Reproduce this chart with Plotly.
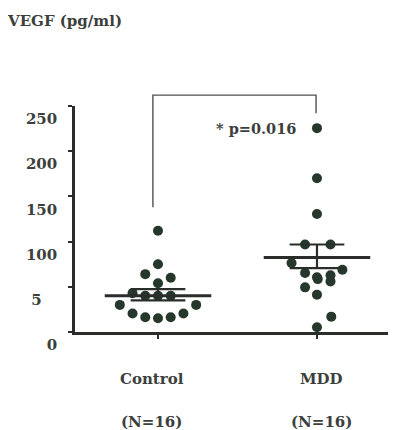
import plotly.graph_objects as go

# ---- data ----
groups = ["Control", "MDD"]
group_pos = [1, 2]
group_n = ["(N=16)", "(N=16)"]

control_values = [112, 75, 64, 60, 54, 43, 40, 40, 40, 30, 30, 20.5, 20.5, 16.3, 15.2, 16.3]
control_jitter = [0, 0, -0.08, 0.08, 0, -0.16, -0.08, 0, 0.08, -0.24, 0.24, -0.16, 0.16, -0.08, 0, 0.08]

mdd_values = [225.5, 170, 130.5, 96.8, 96.8, 58.5, 76.3, 68.9, 65.3, 60.5, 62.7, 56, 49.4, 41.3, 17, 5.2]
mdd_jitter = [0, 0, 0, -0.075, 0.085, 0.005, -0.16, 0.16, -0.075, 0, 0.085, 0.085, -0.075, 0, 0.09, 0]

means = [40, 82.4]
sem_upper = [47.5, 96.8]
sem_lower = [35, 70.6]

y_ticks = [0, 50, 100, 150, 200, 250]
y_ticktext = ["0", "5\u00a0\u00a0\u00a0", "100", "150", "200", "250"]

p_text = "* p=0.016"
y_title = "VEGF (pg/ml)"

# bracket (data units)
bracket_top = 262
bracket_left_end = 138
bracket_right_end = 242

# ---- style ----
DOT = "#25382b"
LINE = "#2a2e2b"
TXT = "#3b403d"
FONT = "DejaVu Serif"

X_RANGE = [0.478, 2.497]
Y_RANGE = [0, 250]

fig = go.Figure()

fig.add_trace(go.Scatter(
    x=[group_pos[0] + j for j in control_jitter], y=control_values,
    mode="markers", marker=dict(size=10, color=DOT), cliponaxis=False,
    showlegend=False, hoverinfo="skip"))
fig.add_trace(go.Scatter(
    x=[group_pos[1] + j for j in mdd_jitter], y=mdd_values,
    mode="markers", marker=dict(size=10, color=DOT), cliponaxis=False,
    showlegend=False, hoverinfo="skip"))

shapes = []
mean_hw = 0.335
sem_hw = 0.172
for gp, m, hi, lo in zip(group_pos, means, sem_upper, sem_lower):
    shapes.append(dict(type="line", xref="x", yref="y", x0=gp - mean_hw, x1=gp + mean_hw,
                       y0=m, y1=m, line=dict(color=LINE, width=3)))
    for v in (hi, lo):
        shapes.append(dict(type="line", xref="x", yref="y", x0=gp - sem_hw, x1=gp + sem_hw,
                           y0=v, y1=v, line=dict(color=LINE, width=2.2)))
    shapes.append(dict(type="line", xref="x", yref="y", x0=gp, x1=gp,
                       y0=lo, y1=hi, line=dict(color=LINE, width=2.2)))


# significance bracket (drawn in paper units so it is not clipped above the axis)
def px(v):
    return (v - X_RANGE[0]) / (X_RANGE[1] - X_RANGE[0])


def py(v):
    return (v - Y_RANGE[0]) / (Y_RANGE[1] - Y_RANGE[0])


bl = px(group_pos[0] - 0.032)
br = px(group_pos[1] - 0.006)
shapes.append(dict(type="path", xref="paper", yref="paper",
                   path=(f"M {bl},{py(bracket_left_end)} L {bl},{py(bracket_top)} "
                         f"L {br},{py(bracket_top)} L {br},{py(bracket_right_end)}"),
                   line=dict(color="#4e524f", width=1.4)))

annotations = []
for gp, name, n, xs in zip(group_pos, groups, group_n, [-6, 5]):
    annotations.append(dict(x=gp, y=0, xref="x", yref="y", text=name, showarrow=False,
                            xanchor="center", yanchor="middle", yshift=-47, xshift=xs,
                            font=dict(family=FONT, size=15, color=TXT, weight="bold")))
    annotations.append(dict(x=gp, y=0, xref="x", yref="y", text=n, showarrow=False,
                            xanchor="center", yanchor="middle", yshift=-90, xshift=xs,
                            font=dict(family=FONT, size=15, color=TXT, weight="bold")))
annotations.append(dict(x=1.88, y=225.5, xref="x", yref="y", text=p_text, showarrow=False,
                        xanchor="right", yanchor="middle",
                        font=dict(family=FONT, size=14.5, color=TXT, weight="bold")))

# the page body has an 8px default margin; figure is sized/offset to compensate
OFF = 8
fig.update_layout(
    width=396 - OFF, height=430 - OFF,
    margin=dict(l=75 - OFF, r=0, t=106 - OFF, b=98),
    paper_bgcolor="white", plot_bgcolor="white",
    showlegend=False,
    title=dict(text=y_title, x=0, xref="container", xanchor="left",
               y=1 - (21 - OFF) / (430 - OFF), yref="container", yanchor="middle",
               font=dict(family=FONT, size=15, color=TXT, weight="bold")),
    xaxis=dict(range=X_RANGE, showgrid=False, zeroline=False,
               showline=True, linecolor=LINE, linewidth=2.5,
               tickvals=group_pos, ticks="outside", ticklen=4, tickwidth=2, tickcolor=LINE,
               showticklabels=False),
    yaxis=dict(range=Y_RANGE, showgrid=False, zeroline=False,
               showline=True, linecolor=LINE, linewidth=2.5,
               tickvals=y_ticks, ticktext=y_ticktext, ticks="outside", ticklen=4,
               tickwidth=2, tickcolor=LINE, ticklabelshift=13, ticklabelstandoff=8,
               tickfont=dict(family=FONT, size=15, color=TXT, weight="bold")),
    shapes=shapes,
    annotations=annotations,
)

fig.write_html("out.html")
